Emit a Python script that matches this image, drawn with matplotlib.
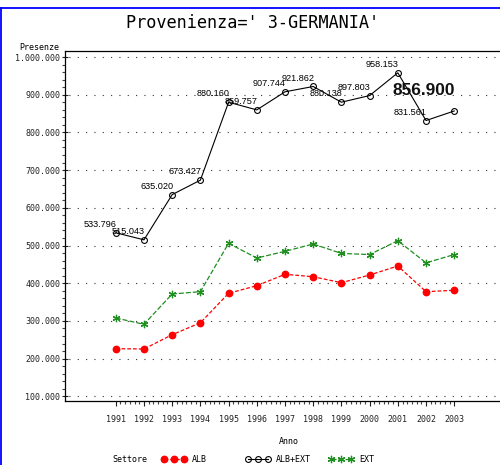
import matplotlib
matplotlib.use('Agg')
import matplotlib.pyplot as plt
from matplotlib import font_manager as fm
from matplotlib.lines import Line2D
from matplotlib.ticker import FixedLocator, MultipleLocator, FuncFormatter

# ---------------- data ----------------
years = [1991, 1992, 1993, 1994, 1995, 1996, 1997, 1998, 1999, 2000, 2001, 2002, 2003]
alb = [226300, 225500, 263400, 295000, 373200, 393400, 423600, 417200, 401300, 421800, 445600, 377500, 381200]
ext = [307700, 291000, 371400, 377500, 505800, 466800, 484600, 504000, 479000, 476000, 512800, 454000, 476000]
alb_ext = [533796, 515043, 635020, 673427, 880160, 859757, 907744, 921862, 880138, 897803, 958153, 831561, 856900]
y_ticks = [100000, 200000, 300000, 400000, 500000, 600000, 700000, 800000, 900000, 1000000]
series_names = ['ALB', 'ALB+EXT', 'EXT']
title = "Provenienza=' 3-GERMANIA'"
x_title = 'Anno'
y_title = 'Presenze'
legend_title = 'Settore'

# ---------------- fonts ----------------
names = {f.name for f in fm.fontManager.ttflist}
NARROW = 'Liberation Sans Narrow' in names
if NARROW:
    SAS = ['Liberation Sans Narrow', 'DejaVu Sans']
    tick_fs, title_fs = 7.9, 15
    big_font, big_fs = ['Liberation Sans Narrow', 'DejaVu Sans'], 15
else:
    SAS = ['DejaVu Sans Mono', 'DejaVu Sans']
    tick_fs, title_fs = 6.0, 12.2
    big_font, big_fs = ['Liberation Sans', 'DejaVu Sans'], 12.4
LBL = ['Liberation Sans', 'DejaVu Sans']

def fmt(v):
    return f"{int(round(v)):,}".replace(',', '.')

W, H = 500, 465
fig = plt.figure(figsize=(W / 100, H / 100), dpi=100)
ax = fig.add_axes([65 / W, 64 / H, 440 / W, 350 / H])

red = '#ff0000'
green = '#1f8f1f'
l_alb, = ax.plot(years, alb, color=red, ls=(0, (3, 1.6)), lw=0.9, marker='o', ms=4.6,
                 mfc=red, mec=red, label=series_names[0], zorder=3)
l_tot, = ax.plot(years, alb_ext, color='black', lw=0.8, marker='o', ms=4.2, mfc='none',
                 mec='black', mew=0.8, label=series_names[1], zorder=4)
l_ext, = ax.plot(years, ext, color=green, ls=(0, (4, 1.6)), lw=0.9, marker=(6, 2, 0), ms=5.3,
                 mew=0.9, mec=green, label=series_names[2], zorder=3)

# value labels on ALB+EXT
for i, (x, v) in enumerate(zip(years, alb_ext)):
    if i == len(years) - 1:
        ax.annotate(fmt(v), (x, v), xytext=(0.3, 15), textcoords='offset points',
                    ha='right', va='center', fontsize=big_fs, fontweight='bold',
                    family=big_font, color='#111111', zorder=5)
    else:
        ax.annotate(fmt(v), (x, v), xytext=(0.7, 6.1), textcoords='offset points',
                    ha='right', va='center', fontsize=6.6, family=LBL, color='black', zorder=5)

ax.set_xlim(1989.2, 2004.8)
ax.set_ylim(87500, 1016000)

for s in ax.spines.values():
    s.set_linewidth(0.9)
    s.set_color('black')

ax.set_yticks(y_ticks)
ax.yaxis.set_major_formatter(FuncFormatter(lambda v, p: fmt(v)))
ax.yaxis.set_minor_locator(MultipleLocator(20000))
ax.set_xticks(years)
ax.set_xticklabels([str(y) for y in years])
ax.xaxis.set_minor_locator(FixedLocator([years[0] + k / 6 for k in range(6 * (years[-1] - years[0]) + 1) if k % 6]))

ax.tick_params(axis='y', which='major', direction='inout', length=4.6, width=0.8, pad=1.2,
               labelsize=tick_fs, colors='#222222')
ax.tick_params(axis='y', which='minor', direction='out', length=2.3, width=0.8, colors='#444444')
ax.tick_params(axis='x', which='major', direction='out', length=3.8, width=0.8, pad=6.5,
               labelsize=tick_fs, colors='#222222')
ax.tick_params(axis='x', which='minor', direction='out', length=2.2, width=0.8, colors='#444444')
for lab in ax.get_xticklabels() + ax.get_yticklabels():
    lab.set_family(SAS)

ax.yaxis.grid(True, which='major', color='#333333', lw=0.8, ls=(4, (1, 6.5)))
ax.set_axisbelow(True)

ax.set_ylabel(y_title, rotation=0, ha='center', va='center', fontsize=tick_fs, family=SAS)
ax.yaxis.set_label_coords((39 - 65) / 440, (401 - 47) / 350)
ax.set_xlabel(x_title, ha='center', va='center', fontsize=tick_fs, family=SAS)
ax.xaxis.set_label_coords((289 - 65) / 440, (401 - 441.5) / 350)

fig.text(253 / W, 1 - 22.5 / H, title, ha='center', va='center', fontsize=title_fs, family=SAS)

# legend
ly = 1 - 459 / H
fig.text(112 / W, ly, legend_title, ha='left', va='center', fontsize=tick_fs, family=SAS)
for handle, xpx in zip([l_alb, l_tot, l_ext], [161, 245, 328]):
    leg = fig.legend(handles=[handle], labels=[handle.get_label()], loc='center left',
                     bbox_to_anchor=(xpx / W, ly), frameon=False, borderpad=0, borderaxespad=0,
                     numpoints=3, handlelength=3.1, handletextpad=0.6,
                     prop=fm.FontProperties(family=SAS, size=tick_fs))

# blue page frame
fig.add_artist(Line2D([0, 1], [1 - 8 / H, 1 - 8 / H], color='#0000ff', lw=1.3, transform=fig.transFigure))
fig.add_artist(Line2D([0.0015, 0.0015], [0, 1 - 8 / H], color='#0000ff', lw=1.3, transform=fig.transFigure))

fig.savefig('out.png', dpi=100)
